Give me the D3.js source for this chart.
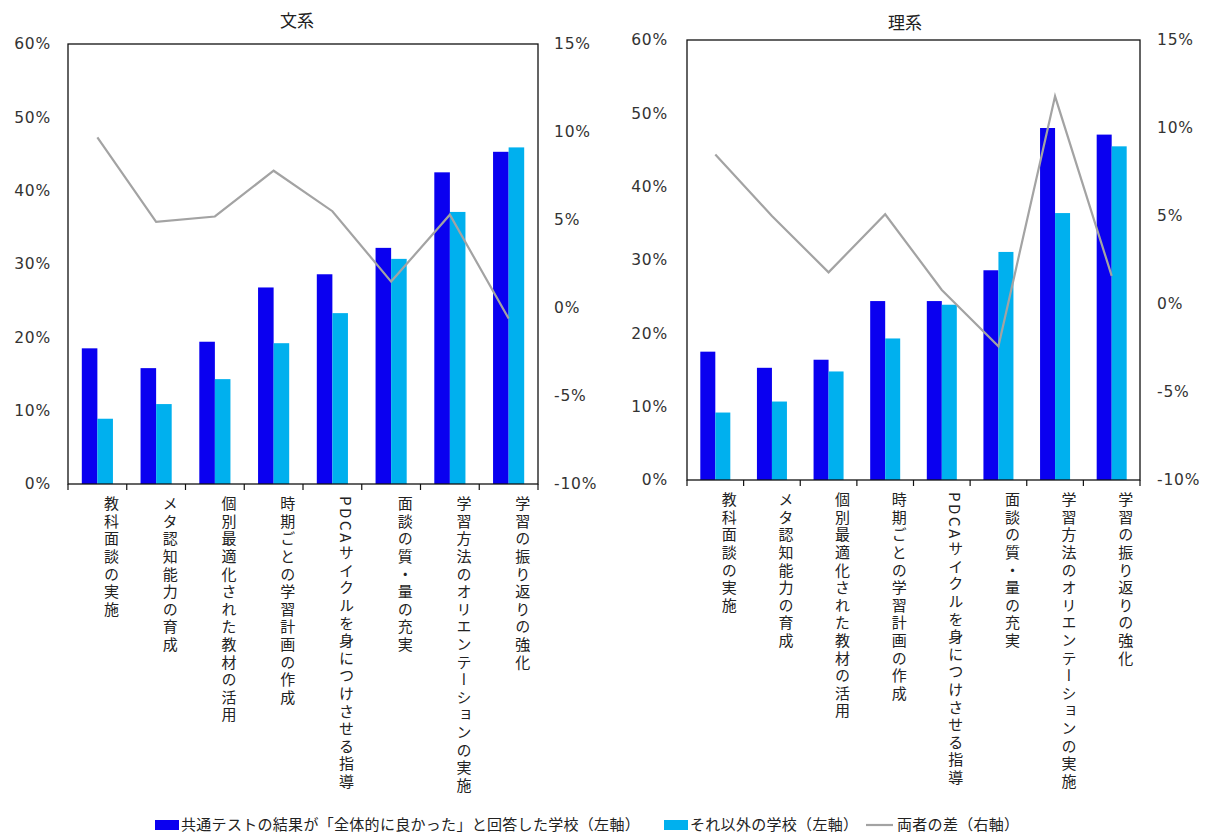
<!DOCTYPE html>
<html><head><meta charset="utf-8">
<script src="https://cdn.jsdelivr.net/npm/d3@7/dist/d3.min.js"></script>
<style>
body{margin:0;background:#fff;}
svg{display:block;}
.tick-lbl{font-family:"DejaVu Sans",Verdana,sans-serif;font-size:15.5px;fill:#333;letter-spacing:0.8px;}
.cat{font-family:"Noto Sans CJK JP",sans-serif;font-size:15px;fill:#222;writing-mode:vertical-rl;letter-spacing:2.6px;}
.title{font-family:"Noto Sans CJK JP",sans-serif;font-size:17px;fill:#222;}
.leg{font-family:"Noto Sans CJK JP",sans-serif;font-size:15px;fill:#222;letter-spacing:0.3px;}
</style></head>
<body>
<svg id="c" width="1218" height="834"></svg>
<script>
const categories = ["教科面談の実施","メタ認知能力の育成","個別最適化された教材の活用","時期ごとの学習計画の作成","PDCAサイクルを身につけさせる指導","面談の質・量の充実","学習方法のオリエンテーションの実施","学習の振り返りの強化"];
const panelTitles = ["文系","理系"];
const seriesNames = ["共通テストの結果が「全体的に良かった」と回答した学校（左軸）","それ以外の学校（左軸）","両者の差（右軸）"];
// 文系
const bunkeiGood  = [18.5,15.8,19.4,26.8,28.6,32.2,42.5,45.3];
const bunkeiOther = [8.9,10.9,14.3,19.2,23.3,30.7,37.1,45.9];
const bunkeiDiff  = [9.7,4.9,5.2,7.8,5.5,1.5,5.3,-0.6];
// 理系
const rikeiGood  = [17.5,15.3,16.4,24.4,24.4,28.6,48.0,47.1];
const rikeiOther = [9.2,10.7,14.8,19.3,23.9,31.1,36.4,45.5];
const rikeiDiff  = [8.5,5.0,1.8,5.1,0.8,-2.4,11.8,1.6];
const leftTicks = [0,10,20,30,40,50,60];
const rightTicks = [-10,-5,0,5,10,15];

const colors = {good:"#0a00f0", other:"#00b0ee", diff:"#a3a3a3"};
const svg = d3.select("#c");

function panel(p){
  const g = svg.append("g");
  const x = d3.scaleBand().domain(categories).range([p.x0,p.x1]).padding(0);
  const step = x.step();
  const xs = d3.scaleBand().domain(["good","other"]).range([step*0.235, step*0.765]).padding(0);
  const yL = d3.scaleLinear().domain([0,60]).range([p.yb,p.yt]);
  const yR = d3.scaleLinear().domain([-10,15]).range([p.yb,p.yt]);

  const rows = categories.map((c,i)=>({c, good:p.good[i], other:p.other[i], diff:p.diff[i]}));
  ["good","other"].forEach(k=>{
    g.selectAll(null).data(rows).enter().append("rect")
      .attr("x",d=>x(d.c)+xs(k)).attr("width",xs.bandwidth())
      .attr("y",d=>yL(d[k])).attr("height",d=>yL(0)-yL(d[k]))
      .attr("fill",colors[k]);
  });
  g.append("path").datum(rows)
    .attr("d",d3.line().x(d=>x(d.c)+step/2).y(d=>yR(d.diff)))
    .attr("fill","none").attr("stroke",colors.diff).attr("stroke-width",2.2);

  g.append("rect").attr("x",p.x0).attr("y",p.yt).attr("width",p.x1-p.x0).attr("height",p.yb-p.yt)
    .attr("fill","none").attr("stroke","#111").attr("stroke-width",1.3);

  const bounds = categories.map(c=>x(c)).concat([p.x1]);
  g.selectAll(null).data(bounds).enter().append("line")
    .attr("x1",d=>d).attr("x2",d=>d).attr("y1",p.yb).attr("y2",p.yb+6)
    .attr("stroke","#111").attr("stroke-width",1.2);

  g.selectAll(null).data(leftTicks).enter().append("text").attr("class","tick-lbl")
    .attr("x",p.x0-p.lgap).attr("y",d=>yL(d)).attr("dy","0.35em").attr("text-anchor","end")
    .text(d=>d+"%");
  g.selectAll(null).data(rightTicks).enter().append("text").attr("class","tick-lbl")
    .attr("x",p.x1+p.rgap).attr("y",d=>yR(d)).attr("dy","0.35em").attr("text-anchor","start")
    .text(d=>d+"%");

  g.selectAll(null).data(categories).enter().append("text").attr("class","cat")
    .attr("x",d=>x(d)+step/2+14).attr("y",p.yb+12)
    .text(d=>d);

  g.append("text").attr("class","title").attr("x",p.tx).attr("y",p.ty).attr("text-anchor","middle").text(p.title);
}

panel({x0:68,x1:538,yt:44,yb:484,lgap:17,rgap:16,good:bunkeiGood,other:bunkeiOther,diff:bunkeiDiff,title:panelTitles[0],tx:297,ty:27});
panel({x0:687,x1:1140,yt:40,yb:480,lgap:19,rgap:17,good:rikeiGood,other:rikeiOther,diff:rikeiDiff,title:panelTitles[1],tx:905,ty:29});

const leg = svg.append("g");
const ly = 825;
leg.append("rect").attr("x",155).attr("y",ly-5).attr("width",24).attr("height",10).attr("fill",colors.good);
leg.append("text").attr("class","leg").attr("x",181).attr("y",ly).attr("dy","0.35em").text(seriesNames[0]);
leg.append("rect").attr("x",664).attr("y",ly-5).attr("width",24).attr("height",10).attr("fill",colors.other);
leg.append("text").attr("class","leg").attr("x",690).attr("y",ly).attr("dy","0.35em").text(seriesNames[1]);
leg.append("line").attr("x1",866).attr("x2",893).attr("y1",ly).attr("y2",ly).attr("stroke",colors.diff).attr("stroke-width",2.2);
leg.append("text").attr("class","leg").attr("x",897).attr("y",ly).attr("dy","0.35em").text(seriesNames[2]);
</script>
</body></html>
